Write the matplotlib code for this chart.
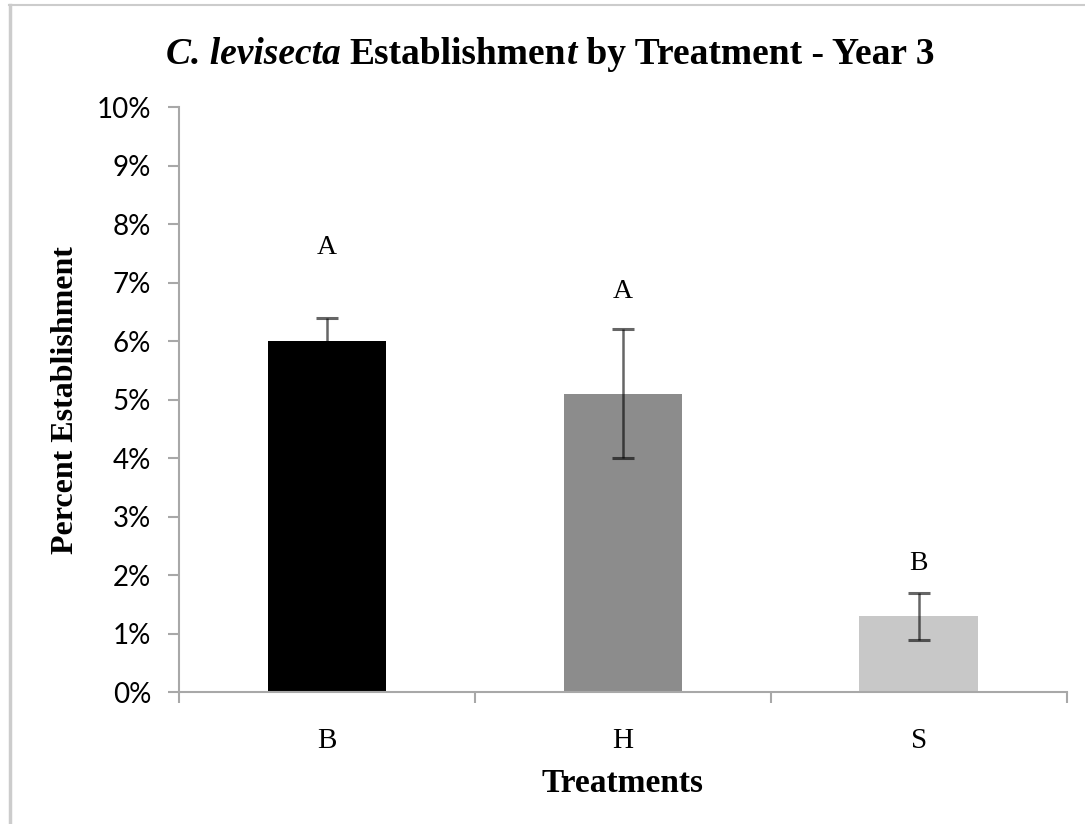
import matplotlib
matplotlib.use("Agg")
import matplotlib.pyplot as plt
from matplotlib.lines import Line2D
from matplotlib.ticker import FuncFormatter

treatments = ["B", "H", "S"]
establishment = [6.0, 5.1, 1.3]          # percent
std_err = [0.4, 1.1, 0.4]
group_letters = ["A", "A", "B"]
letter_y = [7.6, 6.85, 2.2]
bar_colors = ["#000000", "#8c8c8c", "#c8c8c8"]

serif = "Liberation Serif"
sans = "Lato"

fig = plt.figure(figsize=(10.85, 8.24), dpi=100)
ax = fig.add_axes([0.165, 0.160, 0.818, 0.710])

x = list(range(len(treatments)))
ax.bar(x, establishment, width=0.4, color=bar_colors, zorder=2)
ax.errorbar(x, establishment, yerr=std_err, fmt="none", ecolor="black",
            alpha=0.6, elinewidth=1.8, capsize=8, capthick=2.2, zorder=3)

for xi, lab, ly in zip(x, group_letters, letter_y):
    ax.text(xi, ly, lab, ha="center", va="center", fontsize=20, family=serif)

ax.set_xlim(-0.5, 2.5)
ax.set_ylim(0, 10)
ax.set_yticks(range(0, 11))
ax.yaxis.set_major_formatter(FuncFormatter(lambda v, p: f"{int(v)}%"))
for t in ax.get_yticklabels():
    t.set_family(sans)
    t.set_fontsize(20)

# boundary ticks between categories, labels centred on the bars
ax.set_xticks([-0.5, 0.5, 1.5, 2.5])
ax.set_xticklabels([])
ax.set_xticks(x, minor=True)
ax.set_xticklabels(treatments, minor=True, fontsize=21, family=serif)
ax.tick_params(axis="x", which="minor", length=0, pad=26)
ax.tick_params(axis="x", which="major", length=8, width=1.5, color="#a8a8a8", direction="out")
ax.tick_params(axis="y", length=8, width=1.5, color="#a8a8a8", pad=12)

for s in ["top", "right"]:
    ax.spines[s].set_visible(False)
for s in ["left", "bottom"]:
    ax.spines[s].set_color("#a8a8a8")
    ax.spines[s].set_linewidth(1.5)

ax.set_ylabel("Percent Establishment", fontsize=23, fontweight="bold", family=serif, labelpad=12)
ax.set_xlabel("Treatments", fontsize=24, fontweight="bold", family=serif, labelpad=10)

# title in pieces: species name and the stray "t" are italic
pieces = [("C. levisecta ", "italic"), ("Establishmen", "normal"),
          ("t", "italic"), (" by Treatment - Year 3", "normal")]
fig.canvas.draw()
renderer = fig.canvas.get_renderer()
texts = []
for s, style in pieces:
    t = fig.text(0, 0.922, s, fontsize=27, fontweight="bold", style=style,
                 family=serif, ha="left", va="baseline")
    texts.append(t)
widths = [t.get_window_extent(renderer).width for t in texts]
x0 = (550 - sum(widths) / 2) / 1085
for t, w in zip(texts, widths):
    t.set_x(x0)
    x0 += w / 1085

# outer frame on left and top edge
fig.add_artist(Line2D([0.0095, 0.0095], [0, 0.994], color="#cccccc", lw=2.5, transform=fig.transFigure))
fig.add_artist(Line2D([0.0085, 1], [0.994, 0.994], color="#cccccc", lw=1.5, transform=fig.transFigure))

fig.savefig("out.png", dpi=100)
